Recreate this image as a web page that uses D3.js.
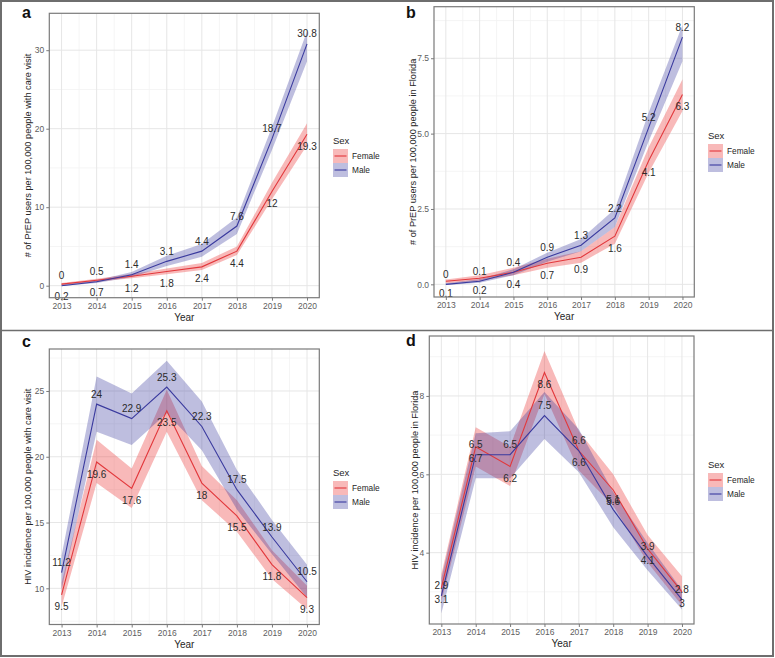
<!DOCTYPE html>
<html lang="en">
<head>
<meta charset="utf-8" />
<title>PrEP use and HIV incidence by sex</title>
<script src="https://d3js.org/d3.v7.min.js"></script>
<style>
  body { margin: 0; background: #fff; }
  text { font-family: "Liberation Sans", Arial, sans-serif; }
</style>
</head>
<body>
<script>
// data
var years = [2013, 2014, 2015, 2016, 2017, 2018, 2019, 2020];
var sexes = ["Female", "Male"];

// a: PrEP users per 100,000 people with care visit
var aFemale = [0.2, 0.7, 1.2, 1.8, 2.4, 4.4, 12, 19.3];
var aFemaleLo = [0.08, 0.5, 0.95, 1.45, 2.0, 3.9, 11.0, 17.9];
var aFemaleHi = [0.35, 0.9, 1.5, 2.2, 2.9, 5.0, 13.1, 20.7];
var aMale = [0, 0.5, 1.4, 3.1, 4.4, 7.6, 18.7, 30.8];
var aMaleLo = [-0.05, 0.35, 1.1, 2.5, 3.7, 6.6, 17.3, 28.6];
var aMaleHi = [0.15, 0.7, 1.75, 3.8, 5.3, 8.7, 20.2, 32.4];

// b: PrEP users per 100,000 people in Florida
var bFemale = [0.1, 0.2, 0.4, 0.7, 0.9, 1.6, 4.1, 6.3];
var bFemaleLo = [0.04, 0.12, 0.3, 0.55, 0.72, 1.35, 3.7, 5.75];
var bFemaleHi = [0.16, 0.3, 0.55, 0.85, 1.1, 1.9, 4.55, 6.8];
var bMale = [0, 0.1, 0.4, 0.9, 1.3, 2.2, 5.2, 8.2];
var bMaleLo = [-0.02, 0.05, 0.3, 0.75, 1.1, 1.9, 4.75, 7.4];
var bMaleHi = [0.04, 0.17, 0.5, 1.05, 1.5, 2.5, 5.7, 8.6];

// c: HIV incidence per 100,000 people with care visit
var cFemale = [9.5, 19.6, 17.6, 23.5, 18, 15.5, 11.8, 9.3];
var cFemaleLo = [8.6, 18.0, 16.1, 21.9, 16.7, 14.3, 10.7, 8.4];
var cFemaleHi = [10.4, 21.3, 19.1, 25.1, 19.3, 16.7, 12.9, 10.2];
var cMale = [11.2, 24, 22.9, 25.3, 22.3, 17.5, 13.9, 10.5];
var cMaleLo = [9.9, 21.9, 20.9, 23.3, 20.5, 16.0, 12.6, 9.3];
var cMaleHi = [12.5, 26.1, 24.8, 27.3, 24.2, 19.0, 15.2, 11.8];

// d: HIV incidence per 100,000 people in Florida
var dFemale = [3.1, 6.7, 6.2, 8.6, 6.6, 5.6, 4.1, 3];
var dFemaleLo = [2.75, 6.2, 5.7, 8.05, 6.1, 5.2, 3.75, 2.65];
var dFemaleHi = [3.45, 7.2, 6.7, 9.15, 7.1, 6.0, 4.45, 3.4];
var dMale = [2.9, 6.5, 6.5, 7.5, 6.6, 5.1, 3.9, 2.8];
var dMaleLo = [2.45, 5.9, 5.9, 6.9, 6.05, 4.65, 3.55, 2.55];
var dMaleHi = [3.35, 7.05, 7.1, 8.1, 7.15, 5.55, 4.25, 3.05];

var aTicks = [0, 10, 20, 30];
var bTicks = [0, 2.5, 5, 7.5];
var cTicks = [10, 15, 20, 25];
var dTicks = [4, 6, 8];

var lineColor = { Female: "#e2383c", Male: "#3a3a9e" };
var fillColor = { Female: "rgba(236,70,70,0.38)", Male: "rgba(40,40,150,0.3)" };

var panels = [
  { letter: "a", ytitle: "# of PrEP users per 100,000 people with care visit",
    f: [aFemale, aFemaleLo, aFemaleHi], m: [aMale, aMaleLo, aMaleHi],
    ydom: [-1.53, 34.7], ticks: aTicks, fmt: d3.format("d"), minor: 5,
    box: [49.3, 13.3, 319.3, 297.7], lx: 333, ly: 140, tOff: 22, letterPos: [22, 18] },
  { letter: "b", ytitle: "# of PrEP users per 100,000 people in Florida",
    f: [bFemale, bFemaleLo, bFemaleHi], m: [bMale, bMaleLo, bMaleHi],
    ydom: [-0.42, 9.21], ticks: bTicks, fmt: d3.format(".1f"), minor: 1.25,
    box: [434, 6.7, 694.3, 297], lx: 708, ly: 135, tOff: 22, letterPos: [406, 18] },
  { letter: "c", ytitle: "HIV incidence per 100,000 people with care visit",
    f: [cFemale, cFemaleLo, cFemaleHi], m: [cMale, cMaleLo, cMaleHi],
    ydom: [7.25, 28.19], ticks: cTicks, fmt: d3.format("d"), minor: 2.5,
    box: [49.3, 349, 319.3, 624.5], lx: 333, ly: 472, tOff: 22, letterPos: [22, 347] },
  { letter: "d", ytitle: "HIV incidence per 100,000 people in Florida",
    f: [dFemale, dFemaleLo, dFemaleHi], m: [dMale, dMaleLo, dMaleHi],
    ydom: [2.18, 9.53], ticks: dTicks, fmt: d3.format("d"), minor: 1,
    box: [429.3, 336, 694, 624], lx: 708, ly: 464, tOff: 15, letterPos: [406, 346] }
];

var svg = d3.select("body").append("svg")
  .attr("width", 775).attr("height", 658);

// outer frame and separator
svg.append("rect").attr("x", 1).attr("y", 1).attr("width", 772).attr("height", 655)
  .attr("fill", "none").attr("stroke", "#6e6e6e").attr("stroke-width", 2);
svg.append("line").attr("x1", 1).attr("x2", 773).attr("y1", 330.5).attr("y2", 330.5)
  .attr("stroke", "#6e6e6e").attr("stroke-width", 1.5);

panels.forEach(function (p, pi) {
  var x0 = p.box[0], y0 = p.box[1], x1 = p.box[2], y1 = p.box[3];
  var x = d3.scaleLinear().domain([2012.65, 2020.35]).range([x0, x1]);
  var y = d3.scaleLinear().domain(p.ydom).range([y1, y0]);
  var g = svg.append("g");

  g.append("clipPath").attr("id", "clip" + pi)
    .append("rect").attr("x", x0).attr("y", y0).attr("width", x1 - x0).attr("height", y1 - y0);

  // minor grid
  var minorY = d3.range(Math.ceil(p.ydom[0] / p.minor) * p.minor, p.ydom[1], p.minor)
    .filter(function (v) { return p.ticks.indexOf(+v.toFixed(4)) < 0; });
  var minorX = d3.range(2012.5, 2020.6, 1).filter(function (v) { return v > 2012.65 && v < 2020.35; });
  g.selectAll(".mgy").data(minorY).enter().append("line")
    .attr("x1", x0).attr("x2", x1).attr("y1", function (d) { return y(d); }).attr("y2", function (d) { return y(d); })
    .attr("stroke", "#f3f3f3").attr("stroke-width", 0.8);
  g.selectAll(".mgx").data(minorX).enter().append("line")
    .attr("y1", y0).attr("y2", y1).attr("x1", function (d) { return x(d); }).attr("x2", function (d) { return x(d); })
    .attr("stroke", "#f3f3f3").attr("stroke-width", 0.8);
  // major grid
  g.selectAll(".gy").data(p.ticks).enter().append("line")
    .attr("x1", x0).attr("x2", x1).attr("y1", function (d) { return y(d); }).attr("y2", function (d) { return y(d); })
    .attr("stroke", "#e6e6e6").attr("stroke-width", 1);
  g.selectAll(".gx").data(years).enter().append("line")
    .attr("y1", y0).attr("y2", y1).attr("x1", function (d) { return x(d); }).attr("x2", function (d) { return x(d); })
    .attr("stroke", "#e6e6e6").attr("stroke-width", 1);

  var series = [
    { sex: "Female", v: p.f[0], lo: p.f[1], hi: p.f[2] },
    { sex: "Male", v: p.m[0], lo: p.m[1], hi: p.m[2] }
  ];

  var area = d3.area()
    .x(function (d, i) { return x(years[i]); })
    .y0(function (d) { return y(d[0]); })
    .y1(function (d) { return y(d[1]); });
  var line = d3.line()
    .x(function (d, i) { return x(years[i]); })
    .y(function (d) { return y(d); });

  var plot = g.append("g").attr("clip-path", "url(#clip" + pi + ")");
  series.forEach(function (s) {
    plot.append("path")
      .datum(d3.zip(s.lo, s.hi))
      .attr("d", area)
      .attr("fill", fillColor[s.sex]);
  });
  series.forEach(function (s) {
    plot.append("path")
      .datum(s.v)
      .attr("d", line)
      .attr("fill", "none")
      .attr("stroke", lineColor[s.sex])
      .attr("stroke-width", 1.1);
  });
  // value labels: male above, female below
  series.forEach(function (s) {
    g.selectAll(null).data(s.v).enter().append("text")
      .attr("x", function (d, i) { return x(years[i]); })
      .attr("y", function (d) { return y(d) + (s.sex === "Male" ? -6.5 : 15.5); })
      .attr("text-anchor", "middle")
      .attr("font-size", 10)
      .attr("fill", "#2b2b2b")
      .text(function (d) { return d; });
  });

  // frame
  g.append("rect").attr("x", x0).attr("y", y0).attr("width", x1 - x0).attr("height", y1 - y0)
    .attr("fill", "none").attr("stroke", "#7a7a7a").attr("stroke-width", 1.2);

  // axes
  var yAxis = d3.axisLeft(y).tickValues(p.ticks).tickFormat(p.fmt).tickSize(3).tickPadding(2);
  var xAxis = d3.axisBottom(x).tickValues(years).tickFormat(d3.format("d")).tickSize(3).tickPadding(2);
  var ya = g.append("g").attr("transform", "translate(" + x0 + ",0)").call(yAxis);
  var xa = g.append("g").attr("transform", "translate(0," + y1 + ")").call(xAxis);
  [ya, xa].forEach(function (a) {
    a.select(".domain").remove();
    a.selectAll(".tick line").attr("stroke", "#7a7a7a");
    a.selectAll(".tick text").attr("fill", "#5e5e5e").attr("font-size", 8.5)
      .attr("font-family", "Liberation Sans, Arial, sans-serif");
  });

  // axis titles
  g.append("text")
    .attr("x", (x0 + x1) / 2).attr("y", y1 + 23)
    .attr("text-anchor", "middle").attr("font-size", 10).attr("fill", "#262626")
    .text("Year");
  g.append("text")
    .attr("transform", "translate(" + (x0 - p.tOff + 3.5) + "," + (y0 + y1) / 2 + ") rotate(-90)")
    .attr("text-anchor", "middle").attr("font-size", 9.2).attr("fill", "#262626")
    .text(p.ytitle);

  // panel letter
  g.append("text")
    .attr("x", p.letterPos[0]).attr("y", p.letterPos[1])
    .attr("font-size", 16).attr("font-weight", "bold").attr("fill", "#111")
    .text(p.letter);

  // legend
  var lg = g.append("g").attr("transform", "translate(" + p.lx + "," + p.ly + ")");
  lg.append("text").attr("x", 0).attr("y", 3.5).attr("font-size", 9.5).attr("fill", "#262626").text("Sex");
  sexes.forEach(function (s, i) {
    var ky = 9 + i * 14;
    lg.append("rect").attr("x", 0).attr("y", ky).attr("width", 15).attr("height", 14)
      .attr("fill", fillColor[s]);
    lg.append("line").attr("x1", 1.5).attr("x2", 13.5).attr("y1", ky + 7).attr("y2", ky + 7)
      .attr("stroke", lineColor[s]).attr("stroke-width", 1.1);
    lg.append("text").attr("x", 19).attr("y", ky + 10).attr("font-size", 8.3).attr("fill", "#262626").text(s);
  });
});
</script>
</body>
</html>
